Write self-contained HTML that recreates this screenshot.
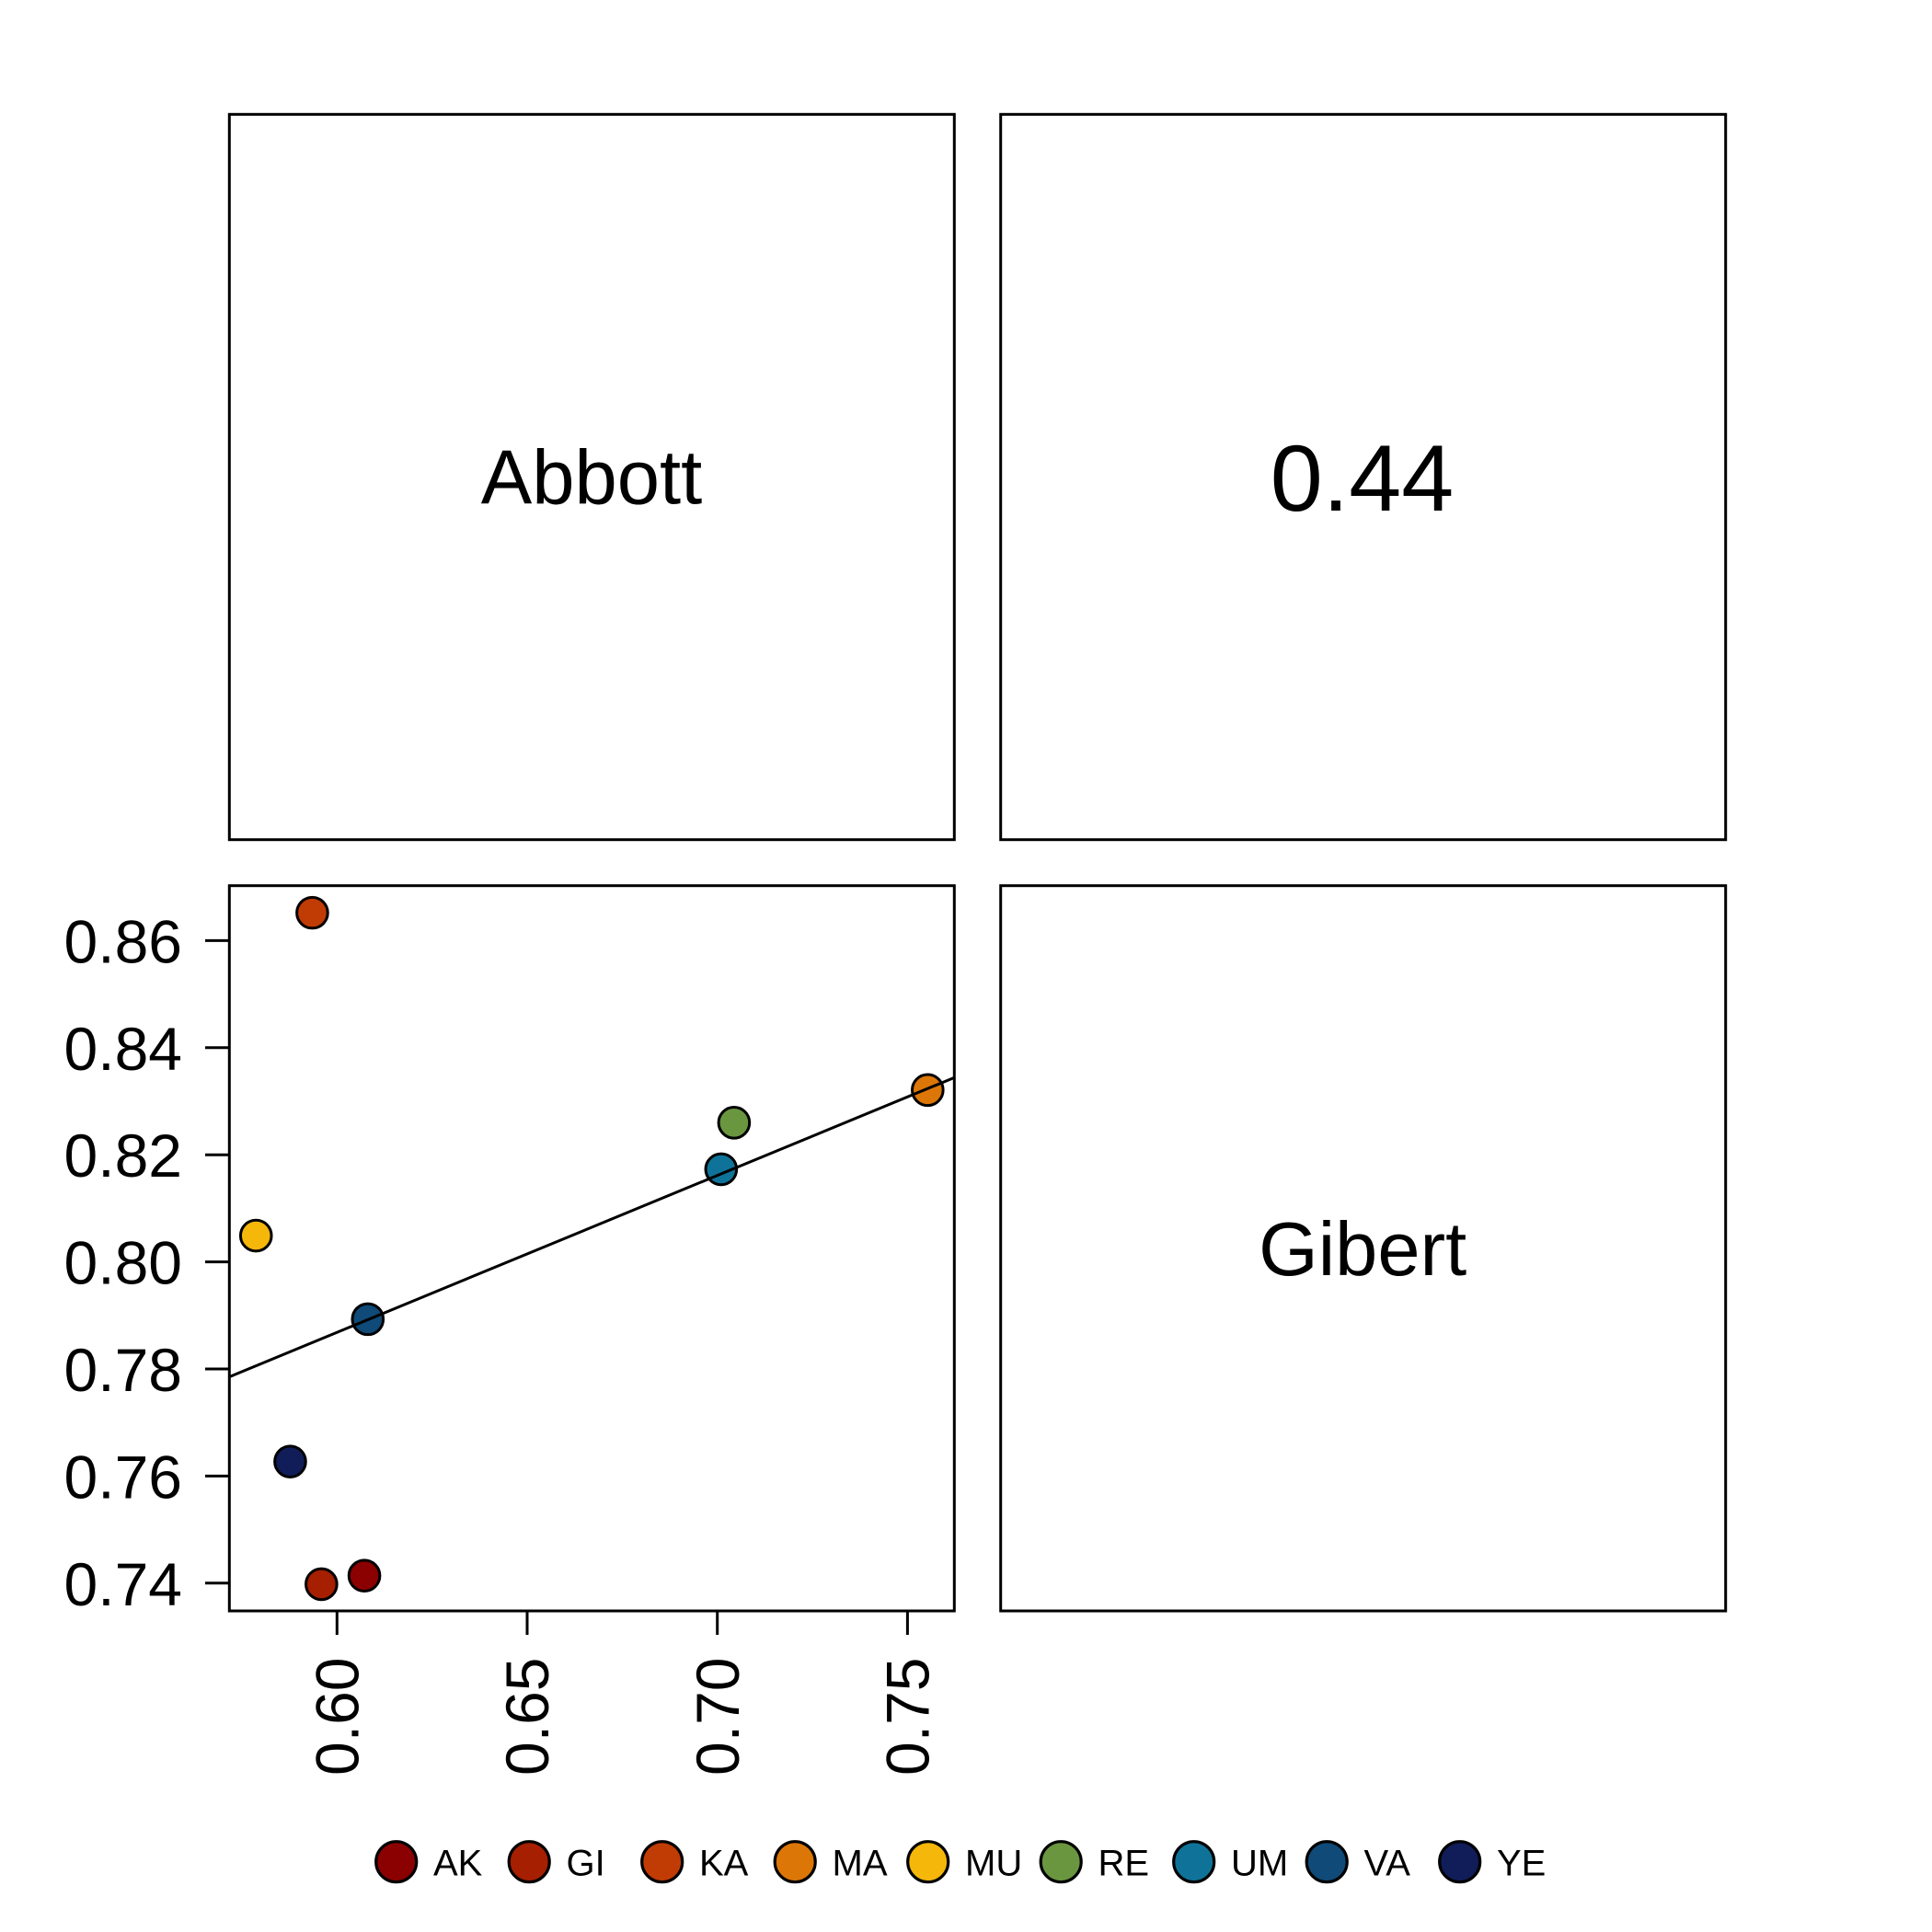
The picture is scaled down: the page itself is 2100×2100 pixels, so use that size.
<!DOCTYPE html>
<html lang="en">
<head>
<meta charset="utf-8">
<title>Abbott vs Gibert pairs plot</title>
<style>
html,body{margin:0;padding:0;background:#fff;}
svg{display:block;}
text{font-family:"Liberation Sans",Arial,sans-serif;fill:#000;}
</style>
</head>
<body>
<svg id="chart" xmlns="http://www.w3.org/2000/svg" width="2100" height="2100" viewBox="0 0 2100 2100">
  <rect x="0" y="0" width="2100" height="2100" fill="#fff"/>
  <rect x="249.3" y="124.3" width="788" height="788.4" fill="none" stroke="#000" stroke-width="3"/>
  <rect x="1087.7" y="124.3" width="788" height="788.4" fill="none" stroke="#000" stroke-width="3"/>
  <rect x="249.3" y="962.7" width="788" height="788.3" fill="none" stroke="#000" stroke-width="3"/>
  <rect x="1087.7" y="962.7" width="788" height="788.3" fill="none" stroke="#000" stroke-width="3"/>
  <text x="643" y="547.5" font-size="83.2" text-anchor="middle">Abbott</text>
  <text x="1480.5" y="555" font-size="102.5" text-anchor="middle">0.44</text>
  <text x="1481.2" y="1386" font-size="83" text-anchor="middle">Gibert</text>
  <defs>
    <clipPath id="scatter-clip"><rect x="249.3" y="963" width="788" height="788"/></clipPath>
  </defs>
  <g id="x-axis"></g>
  <g id="y-axis"></g>
  <g id="points"></g>
  <g id="fit" clip-path="url(#scatter-clip)"></g>
  <g id="legend"></g>
</svg>
<script>
var categories = ['AK','GI','KA','MA','MU','RE','UM','VA','YE'];
var abbottValues = [0.6072,0.5959,0.5935,0.7553,0.5787,0.7044,0.7010,0.6081,0.5877];
var gibertValues = [0.7414,0.7398,0.8652,0.8321,0.8049,0.8260,0.8173,0.7893,0.7627];
var xTicks = [0.60,0.65,0.70,0.75];
var yTicks = [0.74,0.76,0.78,0.80,0.82,0.84,0.86];
var palette = ['#8B0000','#A51F00','#C13B05','#DC7707','#F4B70A','#6A9640','#0F7399','#0F4A78','#101D59'];

var SVGNS = 'http://www.w3.org/2000/svg';
function xScale(v){ return 366.3 + (v - 0.60) * 4134; }
function yScale(v){ return 1720.8 - (v - 0.74) * 5820; }
function make(tag, parent, attrs){
  var el = document.createElementNS(SVGNS, tag);
  for (var k in attrs) { el.setAttribute(k, attrs[k]); }
  parent.appendChild(el);
  return el;
}

var xAxis = document.getElementById('x-axis');
xTicks.forEach(function(t){
  var px = xScale(t);
  var tick = make('line', xAxis, {x1:px, x2:px, y1:1751, y2:1777, stroke:'#000', 'stroke-width':3});
  
  
  var label = make('text', xAxis, {'font-size':66, 'text-anchor':'end', transform:'translate(' + (px + 23.2) + ',1801.5) rotate(-90)'});
  
  
  label.textContent = t.toFixed(2);
});

var yAxis = document.getElementById('y-axis');
yTicks.forEach(function(t){
  var py = yScale(t);
  var tick = make('line', yAxis, {x1:223, x2:249.3, y1:py, y2:py, stroke:'#000', 'stroke-width':3});
  
  
  var label = make('text', yAxis, {x:198, y:py + 24, 'font-size':66, 'text-anchor':'end'});
  
  
  label.textContent = t.toFixed(2);
});

var pointsGroup = document.getElementById('points');
categories.forEach(function(c, i){
  var dot = make('circle', pointsGroup, {cx:xScale(abbottValues[i]), cy:yScale(gibertValues[i]), r:16.8, fill:palette[i], stroke:'#000', 'stroke-width':3});
  
  
});

var n = abbottValues.length, mx = 0, my = 0, sxy = 0, sxx = 0;
for (var i = 0; i < n; i++) { mx += abbottValues[i] / n; my += gibertValues[i] / n; }
for (var j = 0; j < n; j++) {
  sxy += (abbottValues[j] - mx) * (gibertValues[j] - my);
  sxx += (abbottValues[j] - mx) * (abbottValues[j] - mx);
}
var slope = sxy / sxx;
var xLo = 0.55, xHi = 0.80;
var fitLine = make('line', document.getElementById('fit'), {
  x1:xScale(xLo), y1:yScale(my + slope * (xLo - mx)),
  x2:xScale(xHi), y2:yScale(my + slope * (xHi - mx)),
  stroke:'#000', 'stroke-width':3
});



var legend = document.getElementById('legend');
categories.forEach(function(c, i){
  var cx = 430.7 + i * 144.5;
  var swatch = make('circle', legend, {cx:cx, cy:2023.7, r:22, fill:palette[i], stroke:'#000', 'stroke-width':3.2});
  
  
  var label = make('text', legend, {x:cx + 40.3, y:2038.7, 'font-size':40});
  
  
  label.textContent = c;
});
</script>
</body>
</html>
